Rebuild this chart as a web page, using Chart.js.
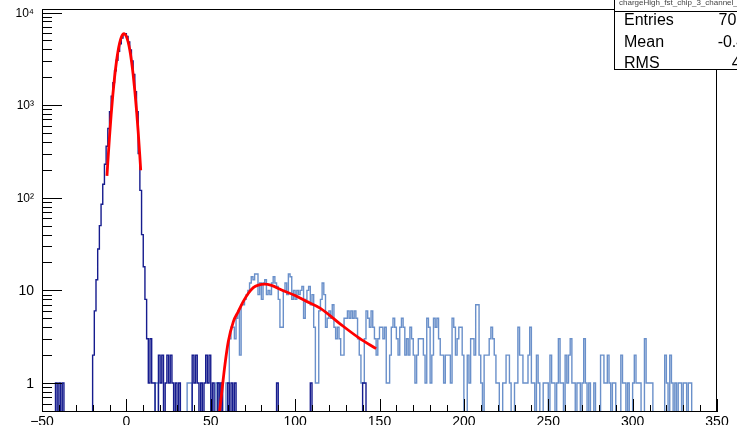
<!DOCTYPE html>
<html>
<head>
<meta charset="utf-8">
<script src="https://cdn.jsdelivr.net/npm/chart.js@4.4.1/dist/chart.umd.min.js"></script>
<style>
  html, body { margin: 0; padding: 0; background: #fff; overflow: hidden; }
  #wrap { position: relative; width: 737px; height: 425px; overflow: hidden; }
  #c { position: absolute; left: 0; top: 0; }
  #stats { position: absolute; left: 614px; top: -3px; width: 170px; height: 71px;
           border: 1px solid #000; background: #fff; color: #000;
           font-family: 'Liberation Sans', Arial, sans-serif; }
  #stats .hdr { position: absolute; left: 4px; top: 0px; font-size: 8px; line-height: 9px; color: #444; white-space: nowrap; }
  #stats .sep { position: absolute; left: 0; right: 0; top: 13px; border-top: 1px solid #000; }
  #stats .row { position: absolute; left: 9px; right: 22px; font-size: 16px; line-height: 18px; }
  #stats .row span.v { position: absolute; right: 0; }
</style>
</head>
<body>
<div id="wrap">
  <canvas id="c" width="737" height="425"></canvas>
  <div id="stats"></div>
</div>
<script>
// ---------------- data ----------------
const binWidth = 1;

// dark (navy) histogram, bins starting at -50
const darkFirstBin = -50;
const darkCounts = [
  0,0,0,0,0,0,0,0,
  1,0,1,0,1,0,
  0,0,0,0,0,0,0,0,0,0,0,0,0,0,0,0,
  2,6,13,28,50,85,140,230,360,560,850,1250,1750,2350,3050,3800,4600,5300,5800,5900,
  5500,4800,3950,3000,2150,1400,850,300,120,40,18,8,3,1,3,1,1,
  0,0,2,1,2,0,1,2,1,2,1,0,1,0,1,0,0,0,0,0,0,0,
  2,1,2,1,0,1,0,1,2,1,2,0,1,0,0,1,0,1,0,0,0,1,0,1,0,1,0,
  0,0,0,0,0,0,0,0,0,0,0,0,0,0,0,0,0,0,0,0,0,0,0,
  1,
  0,0,0,0,0,0,0,0,0,0,0,0,0,0,0,0,0,0,0,
  1,
  0,0,0,0,0,0,0,0,0,0,0,0,0,0,0,0,0,0,0,0,0,0,0,0,0,0,0,0,0,0,
  1,1,
  0,0,0,0,0,0,0,0
];

// light-blue histogram, bins starting at 10
const lightFirstBin = 10;
const lightCounts = [
  0,0,0,0,0,0,
  0,1,1,0,
  0,0,0,0,0,0,0,0,0,0,0,0,0,0,0,0,
  1,1,1,0,
  0,0,0,0,0,0,0,0,0,0,0,0,0,
  1,1,0,1,0,
  0,1,1,3,4,4,3,5,6,2,7,7,
  8,9,10,12,14,13,15,15,9,12,8,12,13,9,10,9,12,14,12,11,8,4,4,10,12,9,15,14,8,10,
  8,10,9,10,11,5,8,10,11,7,9,4,1,1,6,8,12,9,4,5,6,5,7,4,3,4,3,2,2,5,
  5,6,5,6,5,6,5,3,2,1,1,3,6,5,4,6,4,3,2,3,4,4,3,4,1,1,2,4,5,4,
  3,2,4,5,4,2,3,2,4,3,2,1,2,3,3,3,2,1,5,4,1,2,5,4,5,3,2,2,1,2,
  2,2,1,5,4,2,3,4,4,2,0,0,2,1,3,3,2,7,7,2,1,0,2,2,2,3,4,3,2,1,
  1,0,0,1,1,2,2,1,0,0,1,1,4,2,2,1,1,1,2,4,1,1,0,2,1,0,0,1,1,1,
  0,2,1,1,0,1,3,1,1,0,2,1,2,3,1,1,0,1,1,0,1,3,1,0,1,0,0,1,0,0,
  0,2,2,1,1,2,1,0,1,1,0,0,0,2,1,1,0,1,0,0,1,2,1,1,1,0,0,3,1,1,
  1,1,0,0,0,0,0,0,0,2,1,0,2,1,0,1,0,1,1,0,1,1,0,1,1,0,0,0,0,0,
  0,0,0,0,0,0,0,0,0,0
];

// red Gaussian fit over the main peak
const gaussX = [-11.5,-11,-10,-9,-8,-7,-6,-5,-4,-3,-2,-1.4,-1,0,1,2,3,4,5,6,7,8,8.5];
const gaussY = [172,242,455,798,1306,1992,2836,3767,4669,5400,5827,5900,5867,5513,4833,3954,3018,2150,1428,886,513,277,198];

// red Landau-like fit over the second bump
const landauX = [55,57,58.4,60.4,63.4,66.3,69.3,72.3,75.2,78.2,82,86,92,100,106,115,127,138,148];
const landauY = [0.45,0.95,1.57,2.8,4.6,5.9,7.6,9.3,10.7,11.4,11.7,11.3,10.1,8.8,7.7,6.4,4.3,3.05,2.35];

// axes
const xMin = -50, xMax = 350, xMajorStep = 50, xMinorStep = 10;
const yMin = 0.486, yMax = 10910;
const yTickValues = [1, 10, 100, 1000, 10000];
const yTickLabels = ['1', '10', '10\u00B2', '10\u00B3', '10\u2074'];

// stats box
const statsTitle = 'chargeHigh_fst_chip_3_channel_0';
const statsNames = ['Entries', 'Mean', 'RMS'];
const statsValues = ['70825', '-0.421', '4.12'];

// ---------------- build ----------------
const FLOOR = 0.1; // empty bins are drawn down to (below) the frame bottom
function histPoints(first, counts) {
  const pts = [{ x: first, y: FLOOR }];
  counts.forEach((c, i) => pts.push({ x: first + i * binWidth, y: c > 0 ? c : FLOOR }));
  pts.push({ x: first + counts.length * binWidth, y: FLOOR });
  return pts;
}
const zip = (xs, ys) => xs.map((x, i) => ({ x, y: ys[i] }));

(function () {
  const box = document.getElementById('stats');
  let html = '<div class="hdr">' + statsTitle + '</div><div class="sep"></div>';
  const tops = [13, 35, 56];
  statsNames.forEach((n, i) => {
    html += '<div class="row" style="top:' + tops[i] + 'px">' + n + '<span class="v">' + statsValues[i] + '</span></div>';
  });
  box.innerHTML = html;
})();

const rootAxes = {
  id: 'rootAxes',
  afterDatasetsDraw(chart) {
    const { ctx, chartArea: a, scales: { x, y } } = chart;
    ctx.save();
    ctx.strokeStyle = '#000';
    ctx.lineWidth = 1;
    ctx.beginPath();
    for (let v = xMin; v <= xMax; v += xMinorStep) {
      const px = Math.round(x.getPixelForValue(v)) + 0.5;
      const len = (v % xMajorStep === 0) ? 13 : 7;
      ctx.moveTo(px, a.bottom);
      ctx.lineTo(px, a.bottom - len);
    }
    for (let k = -1; k <= 4; k++) {
      for (let m = 1; m <= 9; m++) {
        const v = m * Math.pow(10, k);
        if (v < yMin || v > yMax) continue;
        const py = Math.round(y.getPixelForValue(v)) + 0.5;
        const len = (m === 1) ? 20 : 10;
        ctx.moveTo(a.left, py);
        ctx.lineTo(a.left + len, py);
      }
    }
    ctx.stroke();
    ctx.strokeRect(Math.round(a.left) + 0.5, Math.round(a.top) + 0.5,
                   Math.round(a.right - a.left) - 1, Math.round(a.bottom - a.top) - 1);
    ctx.restore();
  }
};

new Chart(document.getElementById('c'), {
  type: 'line',
  data: {
    datasets: [
      { label: 'fit0', data: zip(gaussX, gaussY), borderColor: '#ff0000', borderWidth: 2.8,
        pointRadius: 0, cubicInterpolationMode: 'monotone', order: 0 },
      { label: 'fit1', data: zip(landauX, landauY), borderColor: '#ff0000', borderWidth: 2.8,
        pointRadius: 0, cubicInterpolationMode: 'monotone', order: 0 },
      { label: 'dark', data: histPoints(darkFirstBin, darkCounts), borderColor: '#161c8e', borderWidth: 1.4,
        pointRadius: 0, stepped: true, order: 1 },
      { label: 'light', data: histPoints(lightFirstBin, lightCounts), borderColor: '#6a90ca', borderWidth: 1.4,
        pointRadius: 0, stepped: true, order: 2 }
    ]
  },
  options: {
    responsive: false,
    devicePixelRatio: 1,
    animation: false,
    parsing: false,
    normalized: true,
    layout: { padding: { left: 0, right: 20, top: 9, bottom: 0 } },
    plugins: { legend: { display: false }, tooltip: { enabled: false } },
    scales: {
      x: {
        type: 'linear', position: 'bottom', min: xMin, max: xMax,
        grid: { display: false, drawTicks: false }, border: { display: false },
        ticks: {
          stepSize: xMajorStep, padding: 2, color: '#000', maxRotation: 0, autoSkip: false,
          font: { family: "'Liberation Sans', Arial, sans-serif", size: 14 },
          callback: (v) => (v < 0 ? '\u2212' + Math.abs(v) : String(v))
        },
        afterFit: (s) => { s.height = 13; s.paddingLeft = 0; s.paddingRight = 0; }
      },
      y: {
        type: 'logarithmic', position: 'left', min: yMin, max: yMax,
        grid: { display: false, drawTicks: false }, border: { display: false },
        afterBuildTicks: (s) => { s.ticks = yTickValues.map((v) => ({ value: v })); },
        ticks: {
          padding: 8, color: '#000', autoSkip: false, labelOffset: 1,
          font: (c) => ({ family: "'Liberation Sans', Arial, sans-serif",
                          size: (c.tick && c.tick.value >= 100) ? 12 : 14 }),
          callback: (v) => { const i = yTickValues.indexOf(v); return i >= 0 ? yTickLabels[i] : ''; }
        },
        afterFit: (s) => { s.width = 42; s.paddingTop = 0; s.paddingBottom = 0; }
      }
    }
  },
  plugins: [rootAxes]
});
</script>
</body>
</html>
